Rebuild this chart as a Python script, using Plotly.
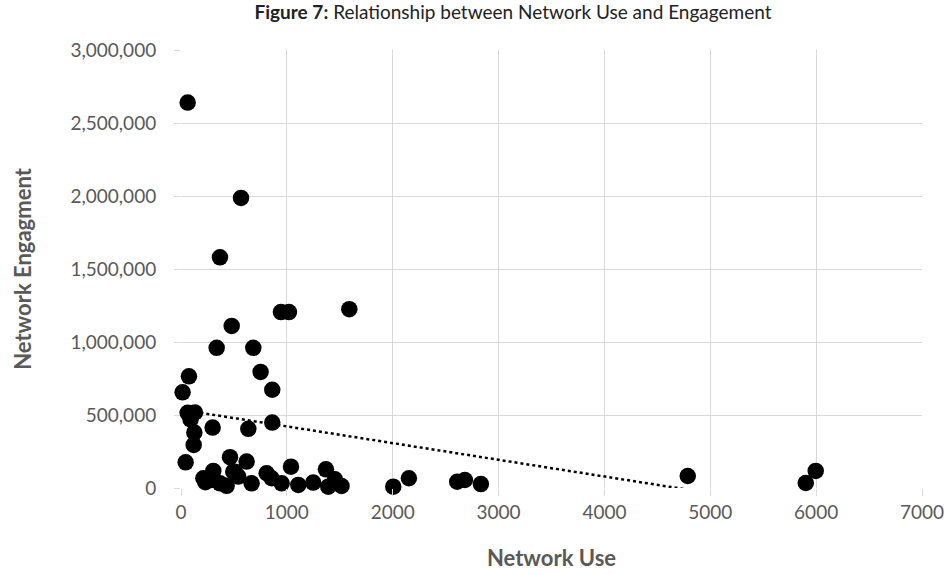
import numpy as np
import plotly.graph_objects as go

network_use = [63, 567, 368, 944, 1020, 1590, 479, 337, 683, 75, 752, 15, 862, 63, 132, 90,
               862, 299, 636, 126, 120, 44, 463, 620, 305, 211, 290, 368, 431, 510, 541, 667,
               809, 856, 951, 1039, 1108, 1249, 1369, 1391, 1454, 1517, 2005, 2153, 2609, 2682,
               2833, 4787, 5902, 5996, 494, 230]
network_engagement = [2640000, 1987000, 1580000, 1205000, 1205000, 1225000, 1110000, 960000,
                      960000, 765000, 795000, 655000, 673000, 515000, 517000, 470000, 448000,
                      414000, 405000, 380000, 295000, 176000, 211000, 181000, 117000, 67000,
                      55000, 32000, 15000, 112000, 78000, 32000, 101000, 67000, 32000, 146000,
                      21000, 37000, 128000, 9000, 60000, 14000, 9000, 67000, 43000, 55000, 27000,
                      82000, 34000, 117000, 112000, 40000]

x_ticks = [0, 1000, 2000, 3000, 4000, 5000, 6000, 7000]
y_ticks = [0, 500000, 1000000, 1500000, 2000000, 2500000, 3000000]

xa = np.array(network_use, dtype=float)
ya = np.array(network_engagement, dtype=float)
slope, intercept = np.polyfit(xa, ya, 1)
trend_x = [xa.min(), xa.max()]
trend_y = [intercept + slope * v for v in trend_x]

FONT = "Lato"
GRAY = "#595959"
GRID = "#d9d9d9"

fig = go.Figure()
fig.add_trace(go.Scatter(
    x=trend_x, y=trend_y, mode="lines",
    line=dict(color="black", width=2.5, dash="dot"),
    showlegend=False, hoverinfo="skip",
))
fig.add_trace(go.Scatter(
    x=network_use, y=network_engagement, mode="markers",
    marker=dict(size=16.5, color="black", line=dict(width=0)),
    showlegend=False, cliponaxis=False,
))

fig.update_layout(
    width=948, height=575,
    margin=dict(l=181, r=26, t=50, b=87, autoexpand=False),
    paper_bgcolor="white", plot_bgcolor="white",
    font=dict(family=FONT, color=GRAY),
    title=dict(
        text="<b>Figure 7:</b> Relationship between Network Use and Engagement",
        x=513 / 948, xanchor="center", xref="container",
        y=1 - 12 / 575, yanchor="middle",
        font=dict(family=FONT, size=19, color="#222222"),
        automargin=False,
    ),
    xaxis=dict(
        range=[0, 7000], tickvals=x_ticks, ticktext=[str(v) for v in x_ticks],
        showgrid=True, gridcolor=GRID, gridwidth=1.3,
        zeroline=False, showline=False, automargin=False,
        ticks="outside", ticklen=7, tickcolor=GRID, tickwidth=1.3,
        tickfont=dict(family=FONT, size=19, color=GRAY),
        title=dict(text="<b>Network Use</b>", font=dict(family=FONT, size=22, color=GRAY), standoff=28),
    ),
    yaxis=dict(
        range=[0, 3000000], tickvals=y_ticks, ticktext=[f"{v:,}" for v in y_ticks],
        showgrid=True, gridcolor=GRID, gridwidth=1.3,
        zeroline=False, showline=False, automargin=False,
        ticks="outside", ticklen=6, tickcolor=GRID, tickwidth=1.3,
        ticklabelstandoff=14,
        tickfont=dict(family=FONT, size=19, color=GRAY),
        title=dict(text="<b>Network Engagment</b>", font=dict(family=FONT, size=22, color=GRAY), standoff=32),
    ),
)

fig.write_html("out.html", config={"displayModeBar": False},
               post_script="document.body.style.margin='0';")
